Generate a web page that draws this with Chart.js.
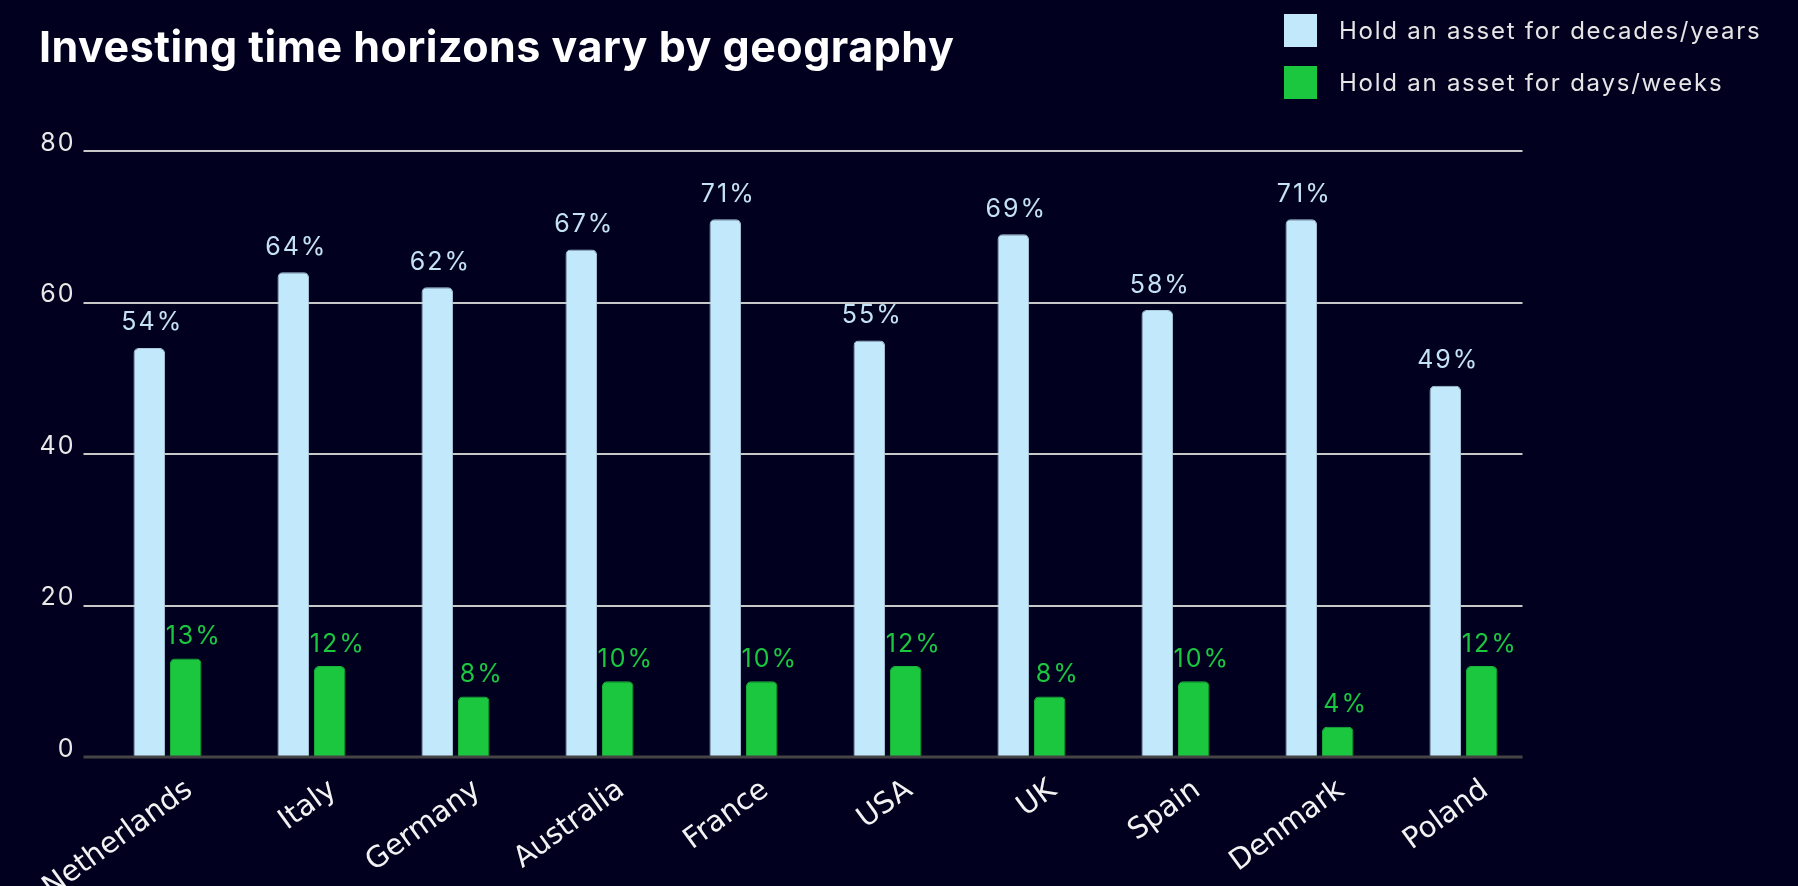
<!DOCTYPE html>
<html>
<head>
<meta charset="utf-8">
<script src="https://cdn.jsdelivr.net/npm/chart.js@4.4.1/dist/chart.umd.min.js"></script>
<style>
html,body{margin:0;padding:0;background:#01011f;overflow:hidden}
#wrap{position:relative;width:1798px;height:886px}
#chart{position:absolute;left:0;top:0}
#title{position:absolute;left:39px;top:20px;margin:0;color:#fff;font:700 43px Inter,sans-serif;letter-spacing:0.5px;white-space:nowrap}
#legend{position:absolute;left:1284px;top:14px;color:#e6e6e6;font:24px Inter,sans-serif;letter-spacing:1.75px}
.item{display:flex;align-items:center;height:33px;margin-bottom:19px;white-space:nowrap}
.sw{width:33px;height:33px;margin-right:22px}
</style>
</head>
<body>
<div id="wrap">
<canvas id="chart" width="1798" height="886"></canvas>
<h1 id="title">Investing time horizons vary by geography</h1>
<div id="legend"></div>
</div>
<script>
/* ===== data ===== */
const countries=["Netherlands","Italy","Germany","Australia","France","USA","UK","Spain","Denmark","Poland"];
const decades=[54,64,62,67,71,55,69,59,71,49];
const days=[13,12,8,10,10,12,8,10,4,12];
const decadesText=["54%","64%","62%","67%","71%","55%","69%","58%","71%","49%"];
const daysText=["13%","12%","8%","10%","10%","12%","8%","10%","4%","12%"];
const yTicks=[0,20,40,60,80];
const seriesNames=["Hold an asset for decades/years","Hold an asset for days/weeks"];
const seriesColors=["#c2e8fb","#1cc740"];
const labelColors=["#c4e2f2","#1cc740"];

/* ===== legend ===== */
seriesNames.forEach((n,i)=>{
legend.innerHTML+=`<div class="item"><div class="sw" style="background:${seriesColors[i]}"></div>${n}</div>`;
});

/* ===== plugins ===== */
const gridLines={
id:"gridLines",
beforeDraw(chart){
chart.ctx.letterSpacing="2px"; // wide numerals for y ticks + bar labels
},
beforeDatasetsDraw(chart){
const {ctx,chartArea,scales:{y}}=chart;
ctx.save();
ctx.strokeStyle="#c8c8c8";
ctx.lineWidth=2;
yTicks.filter(v=>v!==0).forEach(v=>{
const py=Math.round(y.getPixelForValue(v));
ctx.beginPath();
ctx.moveTo(chartArea.left-12,py);
ctx.lineTo(chartArea.right-13,py);
ctx.stroke();
});
ctx.restore();
}
};

const barLabels={
id:"barLabels",
afterDatasetsDraw(chart){
const {ctx,chartArea,scales:{y}}=chart;
// zero line on top of bar bottoms
const py=Math.round(y.getPixelForValue(0));
ctx.save();
ctx.strokeStyle="#444444";
ctx.lineWidth=3;
ctx.beginPath();
ctx.moveTo(chartArea.left-12,py);
ctx.lineTo(chartArea.right-13,py);
ctx.stroke();
ctx.restore();

const texts=[decadesText,daysText];
const dx=[3,8],dy=[25,22];
ctx.save();
ctx.font="25px Inter";
ctx.textAlign="center";
ctx.textBaseline="middle";
chart.data.datasets.forEach((ds,i)=>{
ctx.fillStyle=labelColors[i];
chart.getDatasetMeta(i).data.forEach((bar,j)=>{
ctx.fillText(texts[i][j],bar.x+dx[i],bar.y-dy[i]);
});
});
ctx.restore();
ctx.letterSpacing="0px"; // x labels (drawn after, z:1) use normal spacing
}
};

/* ===== chart ===== */
new Chart(document.getElementById("chart"),{
type:"bar",
data:{
labels:countries,
datasets:[{
label:seriesNames[0],
data:decades,
backgroundColor:seriesColors[0],
borderColor:"#a8c8dc",
borderWidth:1,
borderRadius:5,
categoryPercentage:0.506,
barPercentage:0.866
},{
label:seriesNames[1],
data:days,
backgroundColor:seriesColors[1],
borderColor:"#19b53a",
borderWidth:1,
borderRadius:5,
categoryPercentage:0.506,
barPercentage:0.866
}]
},
options:{
responsive:false,
animation:false,
layout:{padding:{top:151,right:262.5,bottom:0,left:0}},
plugins:{legend:{display:false},tooltip:{enabled:false}},
scales:{
x:{
grid:{display:false,drawTicks:false},
border:{display:false},
ticks:{z:1,color:"#f2f2f2",font:{family:"DejaVu Sans",size:29},maxRotation:36,minRotation:36,labelOffset:22,padding:16},
afterFit:s=>{s.height=129;}
},
y:{
min:0,max:80,
grid:{display:false,drawTicks:false},
border:{display:false},
afterBuildTicks:s=>{s.ticks=yTicks.map(v=>({value:v}));},
ticks:{color:"#e8e8e8",font:{family:"Inter",size:25},padding:20,labelOffset:-8},
afterFit:s=>{s.width=95.5;}
}
}
},
plugins:[gridLines,barLabels]
});
</script>
</body>
</html>
